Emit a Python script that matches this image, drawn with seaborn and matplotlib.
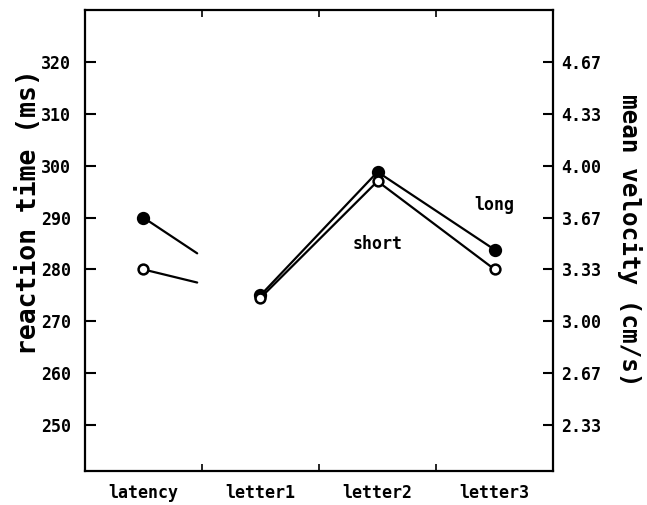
import numpy as np
import pandas as pd
import matplotlib
matplotlib.use("Agg")
import matplotlib.pyplot as plt
import seaborn as sns

# condition labels along the x axis
conditions = ["latency", "letter1", "letter2", "letter3"]
# reaction time / velocity expressed on the left (ms) scale
long_values = [290.0, 275.0, 298.8, 283.8]
short_values = [280.0, 274.5, 297.0, 280.0]

left_ticks = [250, 260, 270, 280, 290, 300, 310, 320]
right_tick_labels = ["2.33", "2.67", "3.00", "3.33", "3.67", "4.00", "4.33", "4.67"]

sns.set_theme(style="white")
plt.rcParams["font.family"] = ["DejaVu Sans Mono"]
plt.rcParams["font.weight"] = "bold"
plt.rcParams["text.color"] = "black"
plt.rcParams["axes.labelcolor"] = "black"
plt.rcParams["xtick.color"] = "black"
plt.rcParams["ytick.color"] = "black"

fig = plt.figure(figsize=(6.47, 5.05), dpi=100)
ax = fig.add_axes([0.131, 0.067, 0.724, 0.913])

df = pd.DataFrame({
    "pos": list(range(len(conditions))) * 2,
    "value": long_values + short_values,
    "group": ["long"] * 4 + ["short"] * 4,
})
move = df[df["pos"] >= 1]

lw = 1.6
# movement segments (letter1..letter3)
sns.lineplot(data=move, x="pos", y="value", hue="group", palette={"long": "black", "short": "black"},
             legend=False, ax=ax, linewidth=lw, sort=True)

# latency segments: drawn part-way toward letter1
frac = 0.46
for vals in (long_values, short_values):
    seg = pd.DataFrame({"pos": [0, frac], "value": [vals[0], vals[0] + frac * (vals[1] - vals[0])]})
    sns.lineplot(data=seg, x="pos", y="value", color="black", linewidth=lw, ax=ax, legend=False)

sns.scatterplot(data=df[df["group"] == "long"], x="pos", y="value", ax=ax, s=65,
                color="black", edgecolor="black", linewidth=1.5, zorder=5, legend=False)
sns.scatterplot(data=df[df["group"] == "short"], x="pos", y="value", ax=ax, s=50,
                color="white", edgecolor="black", linewidth=1.8, zorder=6, legend=False)

ax.set_xlim(-0.5, 3.5)
ax.set_ylim(241.1, 330.0)
ax.set_xticks(range(len(conditions)))
ax.set_xticklabels(conditions, fontsize=12, fontweight="bold")
ax.set_xticks([0.5, 1.5, 2.5], minor=True)
ax.tick_params(axis="x", which="major", length=0, pad=9)
ax.tick_params(axis="x", which="minor", direction="in", length=5, width=1.2,
               bottom=True, top=True)
ax.set_yticks(left_ticks)
ax.set_yticklabels([str(t) for t in left_ticks], fontsize=12, fontweight="bold")
ax.tick_params(axis="y", direction="in", length=8, width=1.5, left=True, pad=10)
ax.set_xlabel("")
ax.set_ylabel("reaction time (ms)", fontsize=19, fontweight="bold")
ax.yaxis.set_label_coords(-0.092, 0.562)

for s in ax.spines.values():
    s.set_visible(True)
    s.set_color("black")
    s.set_linewidth(1.6)

# right axis: mean velocity (cm/s) = 4 + (rt - 300) / 30
ax2 = ax.twinx()
ax2.set_ylim(ax.get_ylim())
ax2.set_yticks(left_ticks)
ax2.set_yticklabels(right_tick_labels, fontsize=12, fontweight="bold")
ax2.tick_params(axis="y", direction="in", length=7, width=1.5, right=True, pad=6)
ax2.set_ylabel("mean velocity (cm/s)", fontsize=17.5, fontweight="bold", rotation=270)
ax2.yaxis.set_label_coords(1.19, 0.5)
ax2.grid(False)
for s in ax2.spines.values():
    s.set_visible(False)

ax.text(3.0, 292.4, "long", fontsize=12, fontweight="bold", ha="center", va="center")
ax.text(2.0, 284.9, "short", fontsize=12, fontweight="bold", ha="center", va="center")

fig.savefig("out.png", dpi=100)
